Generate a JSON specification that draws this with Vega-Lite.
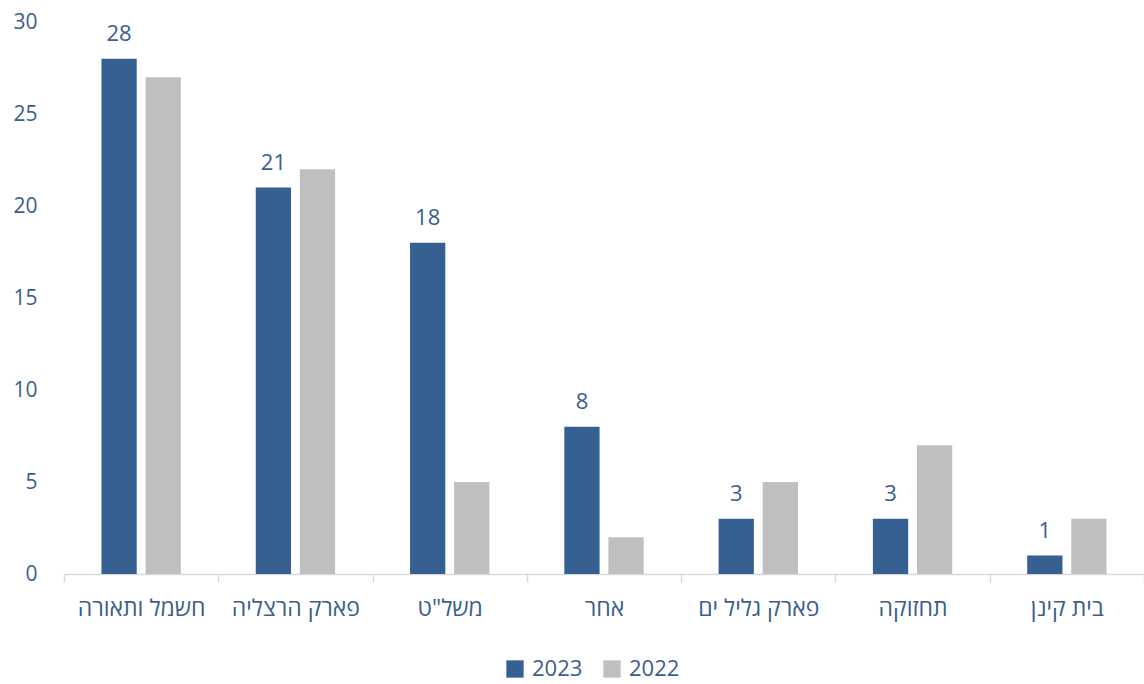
{
  "$schema": "https://vega.github.io/schema/vega-lite/v6.json",
  "width": 1080,
  "height": 552,
  "autosize": "none",
  "padding": {"left": 64, "top": 22, "right": 0, "bottom": 110},
  "background": "white",
  "config": {
    "view": {"stroke": null},
    "font": "Open Sans"
  },
  "data": {
    "values": [
      {"category": "חשמל ותאורה", "year": "2023", "value": 28},
      {"category": "חשמל ותאורה", "year": "2022", "value": 27},
      {"category": "פארק הרצליה", "year": "2023", "value": 21},
      {"category": "פארק הרצליה", "year": "2022", "value": 22},
      {"category": "משל\"ט", "year": "2023", "value": 18},
      {"category": "משל\"ט", "year": "2022", "value": 5},
      {"category": "אחר", "year": "2023", "value": 8},
      {"category": "אחר", "year": "2022", "value": 2},
      {"category": "פארק גליל ים", "year": "2023", "value": 3},
      {"category": "פארק גליל ים", "year": "2022", "value": 5},
      {"category": "תחזוקה", "year": "2023", "value": 3},
      {"category": "תחזוקה", "year": "2022", "value": 7},
      {"category": "בית קינן", "year": "2023", "value": 1},
      {"category": "בית קינן", "year": "2022", "value": 3}
    ]
  },
  "encoding": {
    "x": {
      "field": "category",
      "type": "nominal",
      "sort": null,
      "title": null,
      "scale": {"paddingInner": 0, "paddingOuter": 0},
      "axis": {
        "tickBand": "extent",
        "tickSize": 8,
        "tickColor": "#d9d9d9",
        "tickWidth": 1.5,
        "domainColor": "#d9d9d9",
        "domainWidth": 1.5,
        "labelAngle": 0,
        "labelFontSize": 23,
        "labelColor": "#3B5E8C",
        "labelPadding": 15,
        "labelFont": "Open Sans"
      }
    },
    "xOffset": {
      "field": "year",
      "type": "nominal",
      "sort": ["2023", "2022"],
      "scale": {"domain": ["2023", "2022"], "paddingInner": 0.2, "paddingOuter": 0.85}
    },
    "y": {
      "field": "value",
      "type": "quantitative",
      "title": null,
      "scale": {"domain": [0, 30]},
      "axis": {
        "values": [0, 5, 10, 15, 20, 25, 30],
        "domain": false,
        "ticks": false,
        "grid": false,
        "labelFontSize": 21,
        "labelColor": "#3B5E8C",
        "labelPadding": 27,
        "labelFont": "Open Sans"
      }
    }
  },
  "layer": [
    {
      "mark": {"type": "bar"},
      "encoding": {
        "color": {
          "field": "year",
          "type": "nominal",
          "sort": ["2023", "2022"],
          "scale": {"domain": ["2023", "2022"], "range": ["#366092", "#bfbfbf"]},
          "legend": {
            "title": null,
            "orient": "none",
            "direction": "horizontal",
            "legendX": 440,
            "legendY": 636,
            "symbolType": "square",
            "symbolSize": 300,
            "symbolStrokeWidth": 0,
            "labelFontSize": 22,
            "labelColor": "#3B5E8C",
            "labelFont": "Open Sans",
            "columnPadding": 18,
            "labelOffset": 6
          }
        }
      }
    },
    {
      "transform": [{"filter": "datum.year == '2023'"}],
      "mark": {"type": "text", "baseline": "bottom", "dy": -13, "fontSize": 22, "color": "#3B5E8C", "font": "Open Sans"},
      "encoding": {
        "text": {"field": "value", "type": "quantitative"}
      }
    }
  ]
}
